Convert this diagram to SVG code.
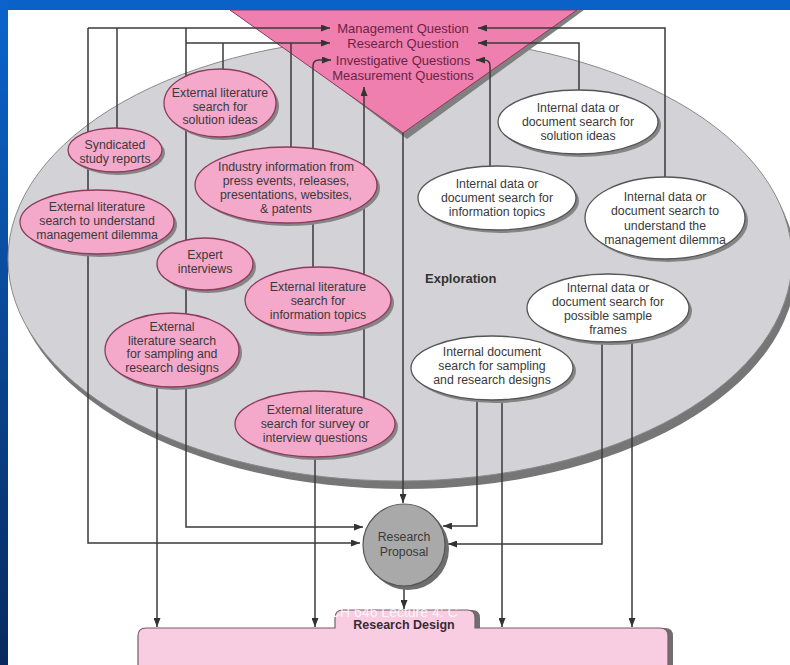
<svg xmlns="http://www.w3.org/2000/svg" width="790" height="665" viewBox="0 0 790 665">
<defs>
<marker id="ah" markerUnits="userSpaceOnUse" markerWidth="9" markerHeight="7" refX="9" refY="3.5" orient="auto">
<path d="M0,0 L9,3.5 L0,7 z" fill="#333"/>
</marker>
<linearGradient id="strip" x1="0" y1="0" x2="0" y2="1">
<stop offset="0" stop-color="#0b64cc"/>
<stop offset="1" stop-color="#082a5e"/>
</linearGradient>
</defs>
<style>
.pk{fill:#f4a8ca;stroke:#8c3c5e;stroke-width:1.3}
.wh{fill:#ffffff;stroke:#555;stroke-width:1.3}
.sh{fill:#858585}
.t{font-family:"Liberation Sans",Arial,sans-serif;font-size:12.3px;fill:#3a3a3a;text-anchor:middle}
.q{font-family:"Liberation Sans",Arial,sans-serif;font-size:13px;fill:#6b2447;text-anchor:middle}
.ln{fill:none;stroke:#3a3a3a;stroke-width:1.5}
.ar{marker-end:url(#ah)}
</style>
<rect x="0" y="0" width="790" height="665" fill="#0a62c8"/>
<rect x="0" y="0" width="8" height="665" fill="url(#strip)"/>
<rect x="8" y="10" width="782" height="655" fill="#ffffff"/>

<g id="exploration">
<ellipse cx="404" cy="267" rx="392" ry="222" fill="#767676"/>
<ellipse cx="400" cy="259" rx="392" ry="222" fill="#d3d3d7" stroke="#8a8a8a" stroke-width="1"/>
<text x="425" y="283" font-family="Liberation Sans,Arial,sans-serif" font-size="13" font-weight="bold" fill="#333">Exploration</text>
</g>

<g id="questions">
<polygon points="236,10 584,10 407,139" fill="#808080"/>
<polygon points="230,10 577,10 403,133" fill="#ee7fae" stroke="#8a3a5a" stroke-width="1"/>
<text class="q" x="403" y="33">Management Question</text>
<text class="q" x="403" y="48">Research Question</text>
<text class="q" x="403" y="65">Investigative Questions</text>
<text class="q" x="403" y="80">Measurement Questions</text>
</g>

<g id="connectors">
<path class="ln ar" d="M88,28 H330"/>
<path class="ln ar" d="M88,28 V543 H360"/>
<path class="ln" d="M117,28 V135"/>
<path class="ln ar" d="M186,28 V527 H363"/>
<path class="ln ar" d="M186,43 H330"/>
<path class="ln" d="M223,43 V80"/>
<path class="ln" d="M291,43 V160"/>
<path class="ln ar" d="M313,275 V66 Q313,60 319,60 H331"/>
<path class="ln ar" d="M364,410 V87"/>
<path class="ln ar" d="M403,133 V503"/>
<path class="ln ar" d="M665,200 V28 H478"/>
<path class="ln ar" d="M579,110 V43 H478"/>
<path class="ln ar" d="M490,185 V66 Q490,60 484,60 H476"/>
<path class="ln ar" d="M157,370 V627"/>
<path class="ln ar" d="M315,440 V627"/>
<path class="ln ar" d="M477,380 V526 H443"/>
<path class="ln ar" d="M602,320 V544 H448"/>
<path class="ln ar" d="M502,380 V627"/>
<path class="ln ar" d="M632,320 V627"/>
<path class="ln ar" d="M404,587 V609"/>
</g>

<g id="n-ext-solution">
<ellipse class="sh" cx="223" cy="106" rx="56" ry="34"/>
<ellipse class="pk" cx="220" cy="103" rx="56" ry="34"/>
<text class="t"><tspan x="220" y="97">External literature</tspan><tspan x="220" y="111">search for</tspan><tspan x="220" y="124">solution ideas</tspan></text>
</g>
<g id="n-syndicated">
<ellipse class="sh" cx="118" cy="153" rx="47" ry="22"/>
<ellipse class="pk" cx="115" cy="150" rx="47" ry="22"/>
<text class="t"><tspan x="115" y="149">Syndicated</tspan><tspan x="115" y="163">study reports</tspan></text>
</g>
<g id="n-industry">
<ellipse class="sh" cx="289" cy="188" rx="91" ry="38"/>
<ellipse class="pk" cx="286" cy="185" rx="91" ry="38"/>
<text class="t"><tspan x="286" y="171">Industry information from</tspan><tspan x="286" y="185">press events, releases,</tspan><tspan x="286" y="199">presentations, websites,</tspan><tspan x="286" y="213">&amp; patents</tspan></text>
</g>
<g id="n-ext-dilemma">
<ellipse class="sh" cx="100" cy="225" rx="77" ry="32"/>
<ellipse class="pk" cx="97" cy="222" rx="77" ry="32"/>
<text class="t"><tspan x="97" y="211">External literature</tspan><tspan x="97" y="225">search to understand</tspan><tspan x="97" y="239">management dilemma</tspan></text>
</g>
<g id="n-expert">
<ellipse class="sh" cx="208" cy="267" rx="48" ry="26"/>
<ellipse class="pk" cx="205" cy="264" rx="48" ry="26"/>
<text class="t"><tspan x="205" y="259">Expert</tspan><tspan x="205" y="273">interviews</tspan></text>
</g>
<g id="n-ext-topics">
<ellipse class="sh" cx="321" cy="303" rx="73" ry="33"/>
<ellipse class="pk" cx="318" cy="300" rx="73" ry="33"/>
<text class="t"><tspan x="318" y="291">External literature</tspan><tspan x="318" y="305">search for</tspan><tspan x="318" y="319">information topics</tspan></text>
</g>
<g id="n-ext-sampling">
<ellipse class="sh" cx="175" cy="353" rx="67" ry="37"/>
<ellipse class="pk" cx="172" cy="350" rx="67" ry="37"/>
<text class="t"><tspan x="172" y="331">External</tspan><tspan x="172" y="345">literature search</tspan><tspan x="172" y="358">for sampling and</tspan><tspan x="172" y="372">research designs</tspan></text>
</g>
<g id="n-ext-survey">
<ellipse class="sh" cx="318" cy="427" rx="80" ry="33"/>
<ellipse class="pk" cx="315" cy="424" rx="80" ry="33"/>
<text class="t"><tspan x="315" y="414">External literature</tspan><tspan x="315" y="428">search for survey or</tspan><tspan x="315" y="442">interview questions</tspan></text>
</g>
<g id="n-int-solution">
<ellipse class="sh" cx="581" cy="125" rx="80" ry="32"/>
<ellipse class="wh" cx="578" cy="122" rx="80" ry="32"/>
<text class="t"><tspan x="578" y="112">Internal data or</tspan><tspan x="578" y="126">document search for</tspan><tspan x="578" y="140">solution ideas</tspan></text>
</g>
<g id="n-int-topics">
<ellipse class="sh" cx="500" cy="201" rx="79" ry="32"/>
<ellipse class="wh" cx="497" cy="198" rx="79" ry="32"/>
<text class="t"><tspan x="497" y="188">Internal data or</tspan><tspan x="497" y="202">document search for</tspan><tspan x="497" y="216">information topics</tspan></text>
</g>
<g id="n-int-dilemma">
<ellipse class="sh" cx="668" cy="221" rx="80" ry="41"/>
<ellipse class="wh" cx="665" cy="218" rx="80" ry="41"/>
<text class="t"><tspan x="665" y="201">Internal data or</tspan><tspan x="665" y="215">document search to</tspan><tspan x="665" y="230">understand the</tspan><tspan x="665" y="244">management dilemma</tspan></text>
</g>
<g id="n-int-frames">
<ellipse class="sh" cx="611" cy="311" rx="81" ry="34"/>
<ellipse class="wh" cx="608" cy="308" rx="81" ry="34"/>
<text class="t"><tspan x="608" y="292">Internal data or</tspan><tspan x="608" y="306">document search for</tspan><tspan x="608" y="320">possible sample</tspan><tspan x="608" y="334">frames</tspan></text>
</g>
<g id="n-int-sampling">
<ellipse class="sh" cx="495" cy="371" rx="81" ry="32"/>
<ellipse class="wh" cx="492" cy="368" rx="81" ry="32"/>
<text class="t"><tspan x="492" y="356">Internal document</tspan><tspan x="492" y="370">search for sampling</tspan><tspan x="492" y="384">and research designs</tspan></text>
</g>

<g id="n-proposal">
<circle cx="408" cy="549" r="41" fill="#6e6e6e"/>
<circle cx="404" cy="545" r="41" fill="#a9a9a9" stroke="#555" stroke-width="1.2"/>
<text class="t" fill="#333"><tspan x="404" y="541">Research</tspan><tspan x="404" y="556">Proposal</tspan></text>
</g>

<g id="n-design">
<path d="M143,670 V636 Q143,628 151,628 H340 V618 Q340,610 348,610 H472 Q480,610 480,618 V628 H665 Q673,628 673,636 V670 Z" fill="#6e6e6e"/>
<path d="M138,670 V636 Q138,628 146,628 H335 V618 Q335,610 343,610 H467 Q475,610 475,618 V628 H660 Q668,628 668,636 V670 Z" fill="#f8cde1" stroke="#7a5a6a" stroke-width="1.2"/>
<text x="404" y="629" font-family="Liberation Sans,Arial,sans-serif" font-size="12.5" font-weight="bold" fill="#3a2a35" text-anchor="middle">Research Design</text>
<text x="330" y="617" font-family="Liberation Sans,Arial,sans-serif" font-size="14" fill="#ffffff" fill-opacity="0.85">CH 646 Lecture 4: C</text>
</g>
</svg>
